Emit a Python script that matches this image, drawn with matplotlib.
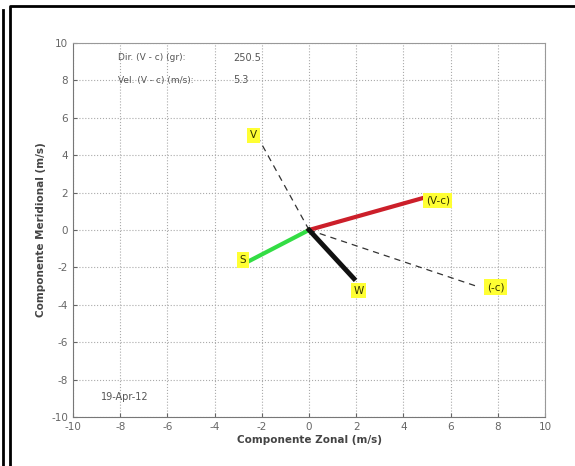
import matplotlib.pyplot as plt
from matplotlib.lines import Line2D

plt.rcParams["axes.unicode_minus"] = False

# vector components (m/s): zonal, meridional
names = ["V", "(-c)", "(V-c)", "S", "W"]
u = [-2.1, 7.2, 5.0, -2.6, 1.9]
v = [4.8, -3.05, 1.77, -1.7, -2.6]

dir_vc = 250.5
vel_vc = 5.3
fecha = "19-Apr-12"

ticks = [-10, -8, -6, -4, -2, 0, 2, 4, 6, 8, 10]

fig = plt.figure(figsize=(5.75, 4.66), dpi=100)
ax = fig.add_axes([0.127, 0.105, 0.821, 0.803])

# dashed helper vectors V and -c
for i in [0, 1]:
    ax.plot([0, u[i]], [0, v[i]], color="#333333", ls=(0, (5, 4)), lw=0.9)

ax.plot([0, u[2]], [0, v[2]], color="#cc1f2a", lw=3)
ax.plot([0, u[3]], [0, v[3]], color="#33dd44", lw=3)
ax.plot([0, u[4]], [0, v[4]], color="#111111", lw=3.5)

# label offsets in data units
offs = [(-0.25, 0.25), (0.7, 0.0), (0.45, -0.2), (-0.2, 0.1), (0.2, -0.65)]
for i, n in enumerate(names):
    ax.text(u[i] + offs[i][0], v[i] + offs[i][1], n, fontsize=7.5, color="#333300",
            ha="center", va="center",
            bbox=dict(boxstyle="square,pad=0.25", fc="#ffff33", ec="none"))

ax.text(-8.1, 9.2, "Dir. (V - c) (gr):", fontsize=6.5, color="#555555", va="center")
ax.text(-3.2, 9.2, f"{dir_vc}", fontsize=7, color="#555555", va="center")
ax.text(-8.1, 8.0, "Vel. (V - c) (m/s):", fontsize=6.5, color="#555555", va="center")
ax.text(-3.2, 8.0, f"{vel_vc}", fontsize=7, color="#555555", va="center")
ax.text(-8.8, -8.95, fecha, fontsize=7, color="#555555", va="center")

ax.set_xlim(-10, 10)
ax.set_ylim(-10, 10)
ax.set_xticks(ticks)
ax.set_yticks(ticks)
ax.grid(True, ls=":", color="#aaaaaa", lw=0.8)
ax.tick_params(labelsize=7.5, colors="#666666", length=3, direction="in")
for s in ax.spines.values():
    s.set_color("#999999")
ax.spines["left"].set_color("#777777")
ax.spines["bottom"].set_color("#777777")
ax.set_xlabel("Componente Zonal (m/s)", fontsize=7.5, fontweight="bold", color="#444444", labelpad=2)
ax.set_ylabel("Componente Meridional (m/s)", fontsize=7.5, fontweight="bold", color="#444444", labelpad=4)

# page frame lines
W, H = 575, 466
fig.add_artist(Line2D([2.5 / W, 2.5 / W], [0, 1 - 10 / H], color="black", lw=2, transform=fig.transFigure))
fig.add_artist(Line2D([9.5 / W, 9.5 / W, 1], [0, 1 - 5.5 / H, 1 - 5.5 / H], color="black", lw=2, transform=fig.transFigure))

fig.savefig("out.png", dpi=100)
